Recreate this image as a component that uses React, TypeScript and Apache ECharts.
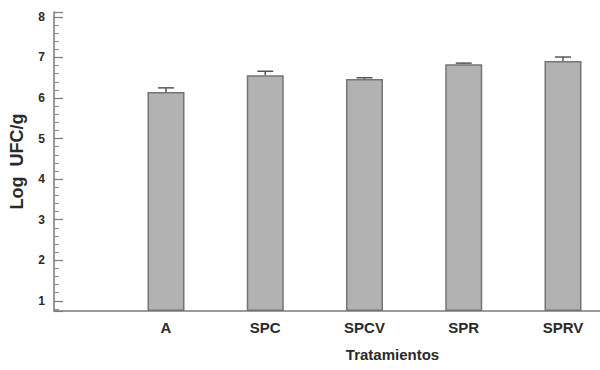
import React, { useEffect, useRef } from "react";
import * as echarts from "echarts";

const categories = ["A", "SPC", "SPCV", "SPR", "SPRV"];
const means = [6.15, 6.56, 6.47, 6.83, 6.91];
const errors = [0.1, 0.1, 0.03, 0.03, 0.1];
const yTickLabels = ["1", "2", "3", "4", "5", "6", "7", "8"];

const Y_MIN = 0.75;
const Y_MAX = 8.12;
const FONT = "Liberation Sans, Arial, sans-serif";

export default function App() {
  const ref = useRef<HTMLDivElement>(null);
  useEffect(() => {
    if (!ref.current) return;
    const chart = echarts.init(ref.current, null, { renderer: "svg" });
    const gridTop = 12;
    const gridBottom = 59;
    chart.setOption({
      animation: false,
      backgroundColor: "#ffffff",
      grid: [
        { left: 53, right: 0, top: gridTop, bottom: gridBottom },
        { left: 166, right: 37, top: gridTop, bottom: gridBottom },
      ],
      xAxis: [
        {
          gridIndex: 0,
          type: "value",
          min: 0,
          max: 1,
          axisLine: { show: true, lineStyle: { color: "#7a7a7a", width: 1.5 } },
          axisTick: { show: false },
          axisLabel: { show: false },
          splitLine: { show: false },
        },
        {
          gridIndex: 1,
          type: "category",
          data: categories,
          boundaryGap: false,
          axisLine: { show: false },
          axisTick: { show: false },
          axisLabel: {
            interval: 0,
            margin: 9,
            color: "#2a2a2a",
            fontFamily: FONT,
            fontWeight: "bold",
            fontSize: 15,
          },
          name: "Tratamientos",
          nameLocation: "middle",
          nameGap: 36,
          nameTextStyle: {
            color: "#2a2a2a",
            fontFamily: FONT,
            fontWeight: "bold",
            fontSize: 15,
            padding: [0, 0, 0, 56],
          },
        },
      ],
      yAxis: [
        {
          gridIndex: 0,
          type: "value",
          min: Y_MIN,
          max: Y_MAX,
          splitNumber: 7,
          axisLine: { show: true, lineStyle: { color: "#7a7a7a", width: 1.5 } },
          axisTick: { show: true, inside: true, length: 9, lineStyle: { color: "#7a7a7a", width: 1.2 } },
          minorTick: { show: true, splitNumber: 5, length: 5, lineStyle: { color: "#8a8a8a", width: 1 } },
          splitLine: { show: false },
          axisLabel: {
            margin: 9,
            color: "#2a2a2a",
            fontFamily: FONT,
            fontWeight: "bold",
            fontSize: 12,
            showMinLabel: false,
            showMaxLabel: false,
            formatter: (v: number) => {
              const s = String(Math.round(v));
              return Math.abs(v - Math.round(v)) < 1e-6 && yTickLabels.includes(s) ? s : "";
            },
          },
          name: "Log  UFC/g",
          nameLocation: "middle",
          nameGap: 28,
          nameRotate: 90,
          nameTextStyle: {
            color: "#2a2a2a",
            fontFamily: FONT,
            fontWeight: "bold",
            fontSize: 18,
          },
        },
        {
          gridIndex: 1,
          type: "value",
          min: Y_MIN,
          max: Y_MAX,
          show: false,
        },
      ],
      series: [
        {
          type: "bar",
          xAxisIndex: 1,
          yAxisIndex: 1,
          stack: "b",
          data: means.map(() => Y_MIN),
          barWidth: 37,
          clip: false,
          silent: true,
          itemStyle: { color: "transparent", borderWidth: 0 },
        },
        {
          type: "bar",
          xAxisIndex: 1,
          yAxisIndex: 1,
          stack: "b",
          data: means.map((m) => m - Y_MIN),
          barWidth: 37,
          clip: false,
          itemStyle: { color: "#b2b2b2", borderColor: "#747474", borderWidth: 1.5 },
        },
        {
          type: "custom",
          xAxisIndex: 1,
          yAxisIndex: 1,
          clip: false,
          data: means.map((m, i) => [i, m, m + errors[i]]),
          renderItem: (params: any, api: any) => {
            const lo = api.coord([api.value(0), api.value(1)]);
            const hi = api.coord([api.value(0), api.value(2)]);
            const hw = 8;
            const style = { stroke: "#555555", lineWidth: 1.5 };
            return {
              type: "group",
              children: [
                { type: "line", shape: { x1: lo[0], y1: lo[1], x2: hi[0], y2: hi[1] }, style },
                { type: "line", shape: { x1: hi[0] - hw, y1: hi[1], x2: hi[0] + hw, y2: hi[1] }, style },
              ],
            };
          },
        },
      ],
    });
    return () => chart.dispose();
  }, []);
  return (
    <div
      ref={ref}
      style={{ position: "fixed", left: 0, top: 0, width: 600, height: 370, background: "#fff" }}
    />
  );
}
